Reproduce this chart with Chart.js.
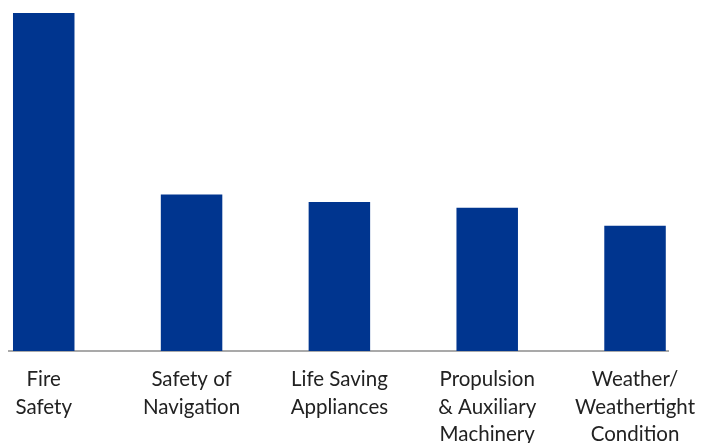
<!DOCTYPE html>
<html>
<head>
<meta charset="utf-8">
<script src="https://cdn.jsdelivr.net/npm/chart.js@4/dist/chart.umd.min.js"></script>
<style>
  html, body { margin: 0; padding: 0; background: #ffffff; }
  #wrap { width: 702px; height: 443px; position: relative; }
</style>
</head>
<body>
<div id="wrap"><canvas id="barChart"></canvas></div>
<script>
// category labels, one entry per line of text
const categories = [
    ['Fire', 'Safety'],
    ['Safety of', 'Navigation'],
    ['Life Saving', 'Appliances'],
    ['Propulsion', '& Auxiliary', 'Machinery'],
    ['Weather/', 'Weathertight', 'Condition']
];
// share of deficiencies
const values = [27, 12.5, 11.9, 11.45, 10.0];

const barColor = '#00358f';

const ctx = document.getElementById('barChart').getContext('2d');
new Chart(ctx, {
    type: 'bar',
    data: {
        datasets: [{
            data: values.map((v, i) => ({ x: i, y: v })),
            backgroundColor: barColor,
            borderWidth: 0,
            categoryPercentage: 1,
            barPercentage: 0.416
        }]
    },
    options: {
        responsive: true,
        maintainAspectRatio: false,
        animation: false,
        layout: {
            padding: { top: 13, left: 9, right: 34, bottom: 0 }
        },
        plugins: {
            legend: { display: false },
            tooltip: { enabled: false }
        },
        scales: {
            x: {
                type: 'linear',
                offset: false,
                min: -0.235,
                max: 4.223,
                afterBuildTicks: function(scale) {
                    scale.ticks = categories.map((c, i) => ({ value: i }));
                },
                afterFit: function(scale) {
                    scale.paddingLeft = 0;
                    scale.paddingRight = 0;
                    scale.height = 92;
                },
                ticks: {
                    autoSkip: false,
                    maxRotation: 0,
                    minRotation: 0,
                    padding: 15,
                    color: '#222222',
                    font: { family: 'Lato', size: 20.5, lineHeight: 1.34 },
                    callback: function(value) {
                        return categories[value];
                    }
                },
                grid: { display: false, drawTicks: false },
                border: { display: true, color: '#a9a9a9', width: 2 }
            },
            y: {
                display: false,
                min: 0,
                max: 27
            }
        }
    }
});
</script>
</body>
</html>
